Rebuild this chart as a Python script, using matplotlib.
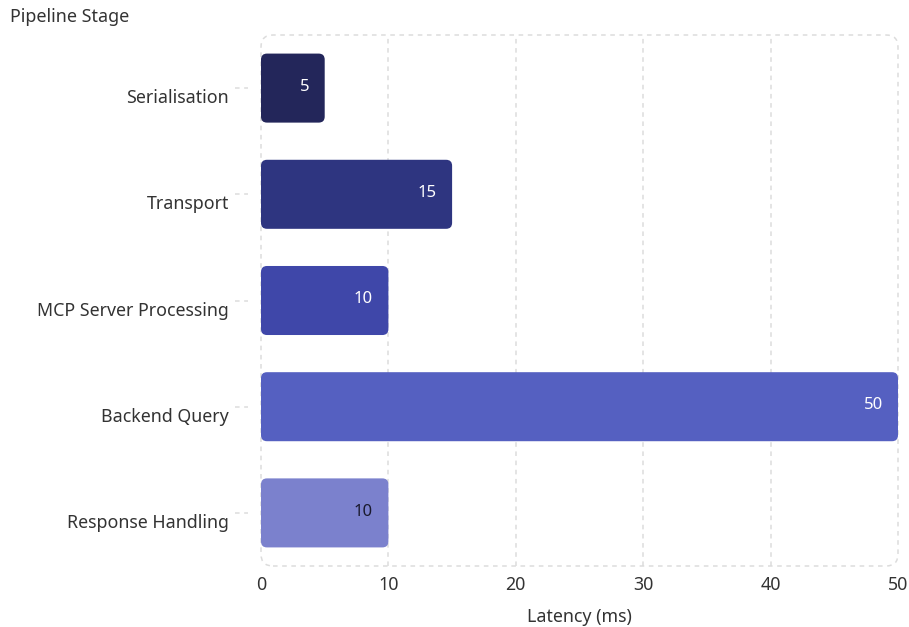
import matplotlib
matplotlib.use("Agg")
import matplotlib.pyplot as plt
from matplotlib.patches import FancyBboxPatch
import matplotlib.transforms as mtrans

plt.rcParams['font.family'] = ['Noto Sans', 'DejaVu Sans']

stages = ["Serialisation", "Transport", "MCP Server Processing", "Backend Query", "Response Handling"]
latency = [5, 15, 10, 50, 10]
colors = ["#23265a", "#2e3580", "#3f47a9", "#5560c1", "#7b81cd"]
label_colors = ["white", "white", "white", "white", "#1a1a2e"]
xticks = [0, 10, 20, 30, 40, 50]

W, H = 909, 627
fig = plt.figure(figsize=(W/100, H/100), dpi=100)
left, right, top, bottom = 261, 898, 35, 566
ax = fig.add_axes([left/W, 1-bottom/H, (right-left)/W, (bottom-top)/H])

ax.set_xlim(0, 50)
ax.set_ylim(4.5, -0.5)
axw = right-left; axh = bottom-top
xpx = axw/50; ypx = axh/5
bar_h = 0.65
rad = 6/xpx
for i, (s, v, c, lc) in enumerate(zip(stages, latency, colors, label_colors)):
    bars = ax.barh(i, v, height=bar_h, color=c, alpha=0)
    b = bars[0]
    p = FancyBboxPatch((b.get_x(), b.get_y()), b.get_width(), b.get_height(),
                       boxstyle=f"round,pad=0,rounding_size={rad}",
                       mutation_aspect=xpx/ypx, facecolor=c, edgecolor='none', zorder=3)
    ax.add_patch(p)
    ax.annotate(str(v), (v, i), xytext=(-11, 1), textcoords='offset points',
                ha='right', va='center', color=lc, fontsize=12, zorder=4)

for sp in ax.spines.values():
    sp.set_visible(False)

gc = "#dcdcdc"
dash = (0, (3, 3))
for x in xticks[1:-1]:
    ax.axvline(x, color=gc, lw=1.1, ls=dash, zorder=1)
border = FancyBboxPatch((0, 0), 1, 1, boxstyle=f"round,pad=0,rounding_size={12/axw}",
                        mutation_aspect=axw/axh, transform=ax.transAxes,
                        facecolor='none', edgecolor=gc, lw=1.1, ls=dash,
                        clip_on=False, zorder=1)
ax.add_patch(border)

trans = mtrans.blended_transform_factory(ax.transAxes, ax.transData)
off = mtrans.ScaledTranslation(0, -10/100, fig.dpi_scale_trans)
for i, s in enumerate(stages):
    ax.plot([-26/axw, -13/axw], [i, i], transform=trans, color=gc, lw=1.1,
            ls=dash, clip_on=False)
    ax.text(-32/axw, i, s, transform=trans + off, ha='right', va='center',
            fontsize=12.8, color="#333333", clip_on=False)

ax.set_yticks(range(len(stages)))
ax.set_yticklabels([])
ax.set_xticks(xticks)
ax.set_xticklabels([str(x) for x in xticks], fontsize=12.8, color="#333333")
ax.tick_params(axis='y', length=0)
ax.tick_params(axis='x', length=0, pad=7)
ax.set_xlabel("Latency (ms)", fontsize=12.8, color="#333333", labelpad=10)
fig.text(10/W, 1-17/H, "Pipeline Stage", fontsize=12.9, color="#333333", ha='left', va='center')

fig.savefig("out.png", dpi=100)
